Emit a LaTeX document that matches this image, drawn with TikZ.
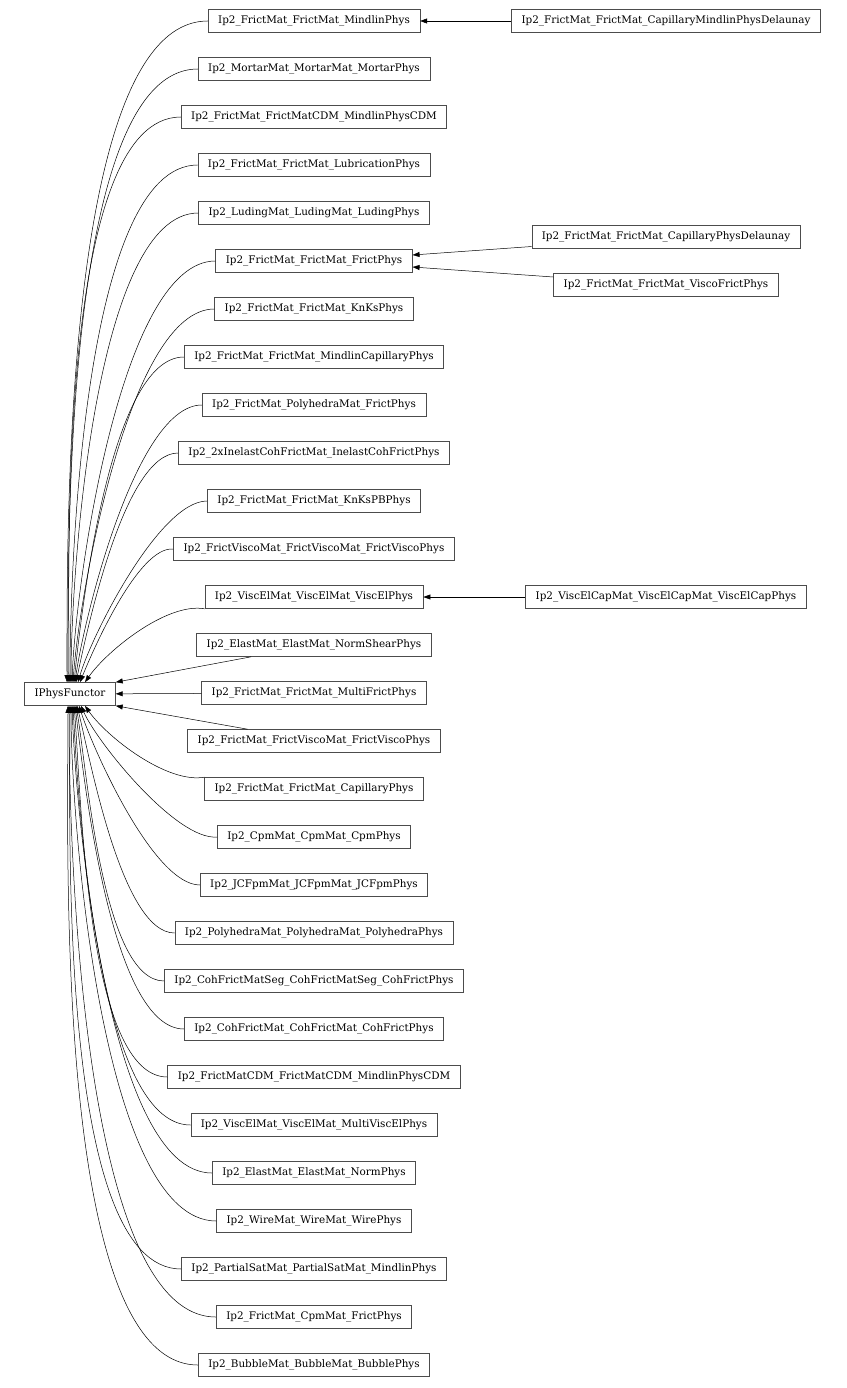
\documentclass[tikz,border=0pt]{standalone}
\usepackage{fontspec}
\setmainfont{DejaVu Serif}
\usepackage{tikz}
\usetikzlibrary{positioning, arrows.meta}
\tikzset{>={Triangle[length=7pt,width=5pt]}}

\begin{document}
\begin{tikzpicture}[x=1pt, y=1pt, node distance=24.4pt,
  every node/.style={font=\fontsize{10.4}{12}\selectfont},
  box/.style={draw=black!70, rectangle, line width=0.6pt, minimum height=23pt, inner xsep=10pt, inner ysep=2pt},
  edge/.style={->, line width=0.5pt, looseness=0.55}]
\useasboundingbox (0,0) rectangle (846,-1388);
% base class
\node[box] (iphys) at (70,-694) {IPhysFunctor};
% derived classes, one column
\node[box] (mindlin) at (314,-21) {Ip2\_FrictMat\_FrictMat\_MindlinPhys};
\node[box, below=of mindlin] (mortar) {Ip2\_MortarMat\_MortarMat\_MortarPhys};
\node[box, below=of mortar] (mindlincdm) {Ip2\_FrictMat\_FrictMatCDM\_MindlinPhysCDM};
\node[box, below=of mindlincdm] (lubrication) {Ip2\_FrictMat\_FrictMat\_LubricationPhys};
\node[box, below=of lubrication] (luding) {Ip2\_LudingMat\_LudingMat\_LudingPhys};
\node[box, below=of luding] (frict) {Ip2\_FrictMat\_FrictMat\_FrictPhys};
\node[box, below=of frict] (knks) {Ip2\_FrictMat\_FrictMat\_KnKsPhys};
\node[box, below=of knks] (mindlincap) {Ip2\_FrictMat\_FrictMat\_MindlinCapillaryPhys};
\node[box, below=of mindlincap] (polyfrict) {Ip2\_FrictMat\_PolyhedraMat\_FrictPhys};
\node[box, below=of polyfrict] (inelast) {Ip2\_2xInelastCohFrictMat\_InelastCohFrictPhys};
\node[box, below=of inelast] (knkspb) {Ip2\_FrictMat\_FrictMat\_KnKsPBPhys};
\node[box, below=of knkspb] (viscofrict) {Ip2\_FrictViscoMat\_FrictViscoMat\_FrictViscoPhys};
\node[box, below=of viscofrict] (viscel) {Ip2\_ViscElMat\_ViscElMat\_ViscElPhys};
\node[box, below=of viscel] (normshear) {Ip2\_ElastMat\_ElastMat\_NormShearPhys};
\node[box, below=of normshear] (multifrict) {Ip2\_FrictMat\_FrictMat\_MultiFrictPhys};
\node[box, below=of multifrict] (frictvisco) {Ip2\_FrictMat\_FrictViscoMat\_FrictViscoPhys};
\node[box, below=of frictvisco] (capillary) {Ip2\_FrictMat\_FrictMat\_CapillaryPhys};
\node[box, below=of capillary] (cpm) {Ip2\_CpmMat\_CpmMat\_CpmPhys};
\node[box, below=of cpm] (jcfpm) {Ip2\_JCFpmMat\_JCFpmMat\_JCFpmPhys};
\node[box, below=of jcfpm] (polyhedra) {Ip2\_PolyhedraMat\_PolyhedraMat\_PolyhedraPhys};
\node[box, below=of polyhedra] (cohseg) {Ip2\_CohFrictMatSeg\_CohFrictMatSeg\_CohFrictPhys};
\node[box, below=of cohseg] (cohfrict) {Ip2\_CohFrictMat\_CohFrictMat\_CohFrictPhys};
\node[box, below=of cohfrict] (cdmcdm) {Ip2\_FrictMatCDM\_FrictMatCDM\_MindlinPhysCDM};
\node[box, below=of cdmcdm] (multiviscel) {Ip2\_ViscElMat\_ViscElMat\_MultiViscElPhys};
\node[box, below=of multiviscel] (norm) {Ip2\_ElastMat\_ElastMat\_NormPhys};
\node[box, below=of norm] (wire) {Ip2\_WireMat\_WireMat\_WirePhys};
\node[box, below=of wire] (partialsat) {Ip2\_PartialSatMat\_PartialSatMat\_MindlinPhys};
\node[box, below=of partialsat] (cpmfrict) {Ip2\_FrictMat\_CpmMat\_FrictPhys};
\node[box, below=of cpmfrict] (bubble) {Ip2\_BubbleMat\_BubbleMat\_BubblePhys};
% second level
\node[box] (capmindlin) at (666,-21) {Ip2\_FrictMat\_FrictMat\_CapillaryMindlinPhysDelaunay};
\node[box] (capdelaunay) at (666,-237) {Ip2\_FrictMat\_FrictMat\_CapillaryPhysDelaunay};
\node[box] (viscofrictphys) at (666,-285) {Ip2\_FrictMat\_FrictMat\_ViscoFrictPhys};
\node[box] (viscelcap) at (666,-597) {Ip2\_ViscElCapMat\_ViscElCapMat\_ViscElCapPhys};

\draw[edge] (capmindlin) -- (mindlin);
\draw[edge] (capdelaunay) -- ([yshift=6pt]frict.east);
\draw[edge] (viscofrictphys) -- ([yshift=-6pt]frict.east);
\draw[edge] (viscelcap) -- (viscel);

% upper half into the top of the base class
\draw[edge] (mindlin.west) to[out=180, in=90] ([xshift=-3pt]iphys.north);
\draw[edge] (mortar.west) to[out=180, in=90] ([xshift=-2pt]iphys.north);
\draw[edge] (mindlincdm.west) to[out=180, in=90] ([xshift=-1pt]iphys.north);
\draw[edge] (lubrication.west) to[out=180, in=90] (iphys.north);
\draw[edge] (luding.west) to[out=180, in=90] ([xshift=1pt]iphys.north);
\draw[edge] (frict.west) to[out=180, in=88] ([xshift=2pt]iphys.north);
\draw[edge] (knks.west) to[out=180, in=86] ([xshift=3pt]iphys.north);
\draw[edge] (mindlincap.west) to[out=180, in=84] ([xshift=4pt]iphys.north);
\draw[edge] (polyfrict.west) to[out=180, in=82] ([xshift=5pt]iphys.north);
\draw[edge] (inelast.west) to[out=180, in=78] ([xshift=6pt]iphys.north);
\draw[edge] (knkspb.west) to[out=180, in=74] ([xshift=8pt]iphys.north);
\draw[edge] (viscofrict.west) to[out=175, in=68] ([xshift=10pt]iphys.north);
\draw[edge] (viscel.south west) to[out=170, in=55, looseness=0.7] ([xshift=15pt]iphys.north);
% straight ones
\draw[edge] (normshear) -- (iphys.north east);
\draw[edge] (multifrict) -- (iphys);
\draw[edge] (frictvisco) -- (iphys.south east);
% lower half into the bottom
\draw[edge] (capillary.north west) to[out=190, in=-55, looseness=0.7] ([xshift=15pt]iphys.south);
\draw[edge] (cpm.west) to[out=185, in=-66] ([xshift=11pt]iphys.south);
\draw[edge] (jcfpm.west) to[out=180, in=-72] ([xshift=9pt]iphys.south);
\draw[edge] (polyhedra.west) to[out=180, in=-76] ([xshift=7pt]iphys.south);
\draw[edge] (cohseg.west) to[out=180, in=-80] ([xshift=6pt]iphys.south);
\draw[edge] (cohfrict.west) to[out=180, in=-83] ([xshift=5pt]iphys.south);
\draw[edge] (cdmcdm.west) to[out=180, in=-85] ([xshift=4pt]iphys.south);
\draw[edge] (multiviscel.west) to[out=180, in=-87] ([xshift=3pt]iphys.south);
\draw[edge] (norm.west) to[out=180, in=-88] ([xshift=2pt]iphys.south);
\draw[edge] (wire.west) to[out=180, in=-90] ([xshift=1pt]iphys.south);
\draw[edge] (partialsat.west) to[out=180, in=-90] (iphys.south);
\draw[edge] (cpmfrict.west) to[out=180, in=-90] ([xshift=-1pt]iphys.south);
\draw[edge] (bubble.west) to[out=180, in=-90] ([xshift=-2pt]iphys.south);
\end{tikzpicture}
\end{document}
